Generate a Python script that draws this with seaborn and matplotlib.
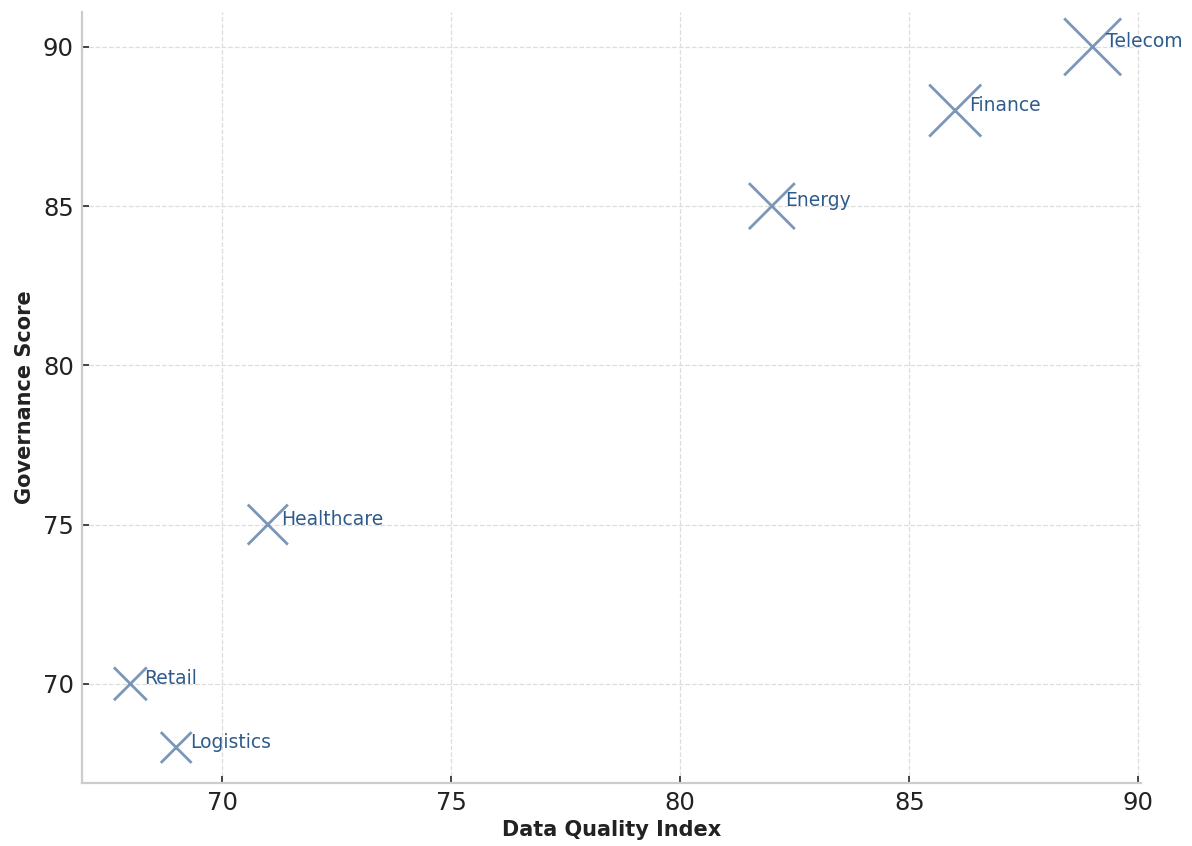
import matplotlib
matplotlib.use("Agg")
import matplotlib.pyplot as plt
import seaborn as sns
import pandas as pd

# sector data
sectors = ["Retail", "Logistics", "Healthcare", "Energy", "Finance", "Telecom"]
quality = [68, 69, 71, 82, 86, 89]
governance = [70, 68, 75, 85, 88, 90]
marker_area = [560, 490, 830, 1090, 1400, 1680]

df = pd.DataFrame({"Sector": sectors, "Quality": quality,
                   "Governance": governance, "Area": marker_area})

sns.set_style("white")
plt.rcParams['font.family'] = ['DejaVu Sans']

fig, ax = plt.subplots(figsize=(11.92, 8.46), dpi=100)
fig.subplots_adjust(left=0.069, right=0.957, bottom=0.075, top=0.986)

sns.scatterplot(data=df, x="Quality", y="Governance", marker="x",
                s=df["Area"].values, color="#4f74a0", alpha=0.75,
                linewidth=2.0, ax=ax, legend=False)

for _, row in df.iterrows():
    ax.text(row["Quality"] + 0.3, row["Governance"], row["Sector"],
            fontsize=13.5, color="#2f5b8c")

ax.set_xticks([70, 75, 80, 85, 90])
ax.set_yticks([70, 75, 80, 85, 90])
ax.grid(True, linestyle="--", color="#dddddd", linewidth=0.9)
ax.set_xlabel("Data Quality Index", fontsize=15, fontweight="bold", color="#222222")
ax.set_ylabel("Governance Score", fontsize=15, fontweight="bold", color="#222222", labelpad=6)
ax.tick_params(axis="both", labelsize=17.5, length=5, width=1.4, pad=6,
               color="#444444", labelcolor="#222222", direction="in",
               bottom=True, left=True)
sns.despine(ax=ax)
for side in ["left", "bottom"]:
    ax.spines[side].set_color("#cccccc")
    ax.spines[side].set_linewidth(1.6)

fig.savefig("out.png", dpi=100)
